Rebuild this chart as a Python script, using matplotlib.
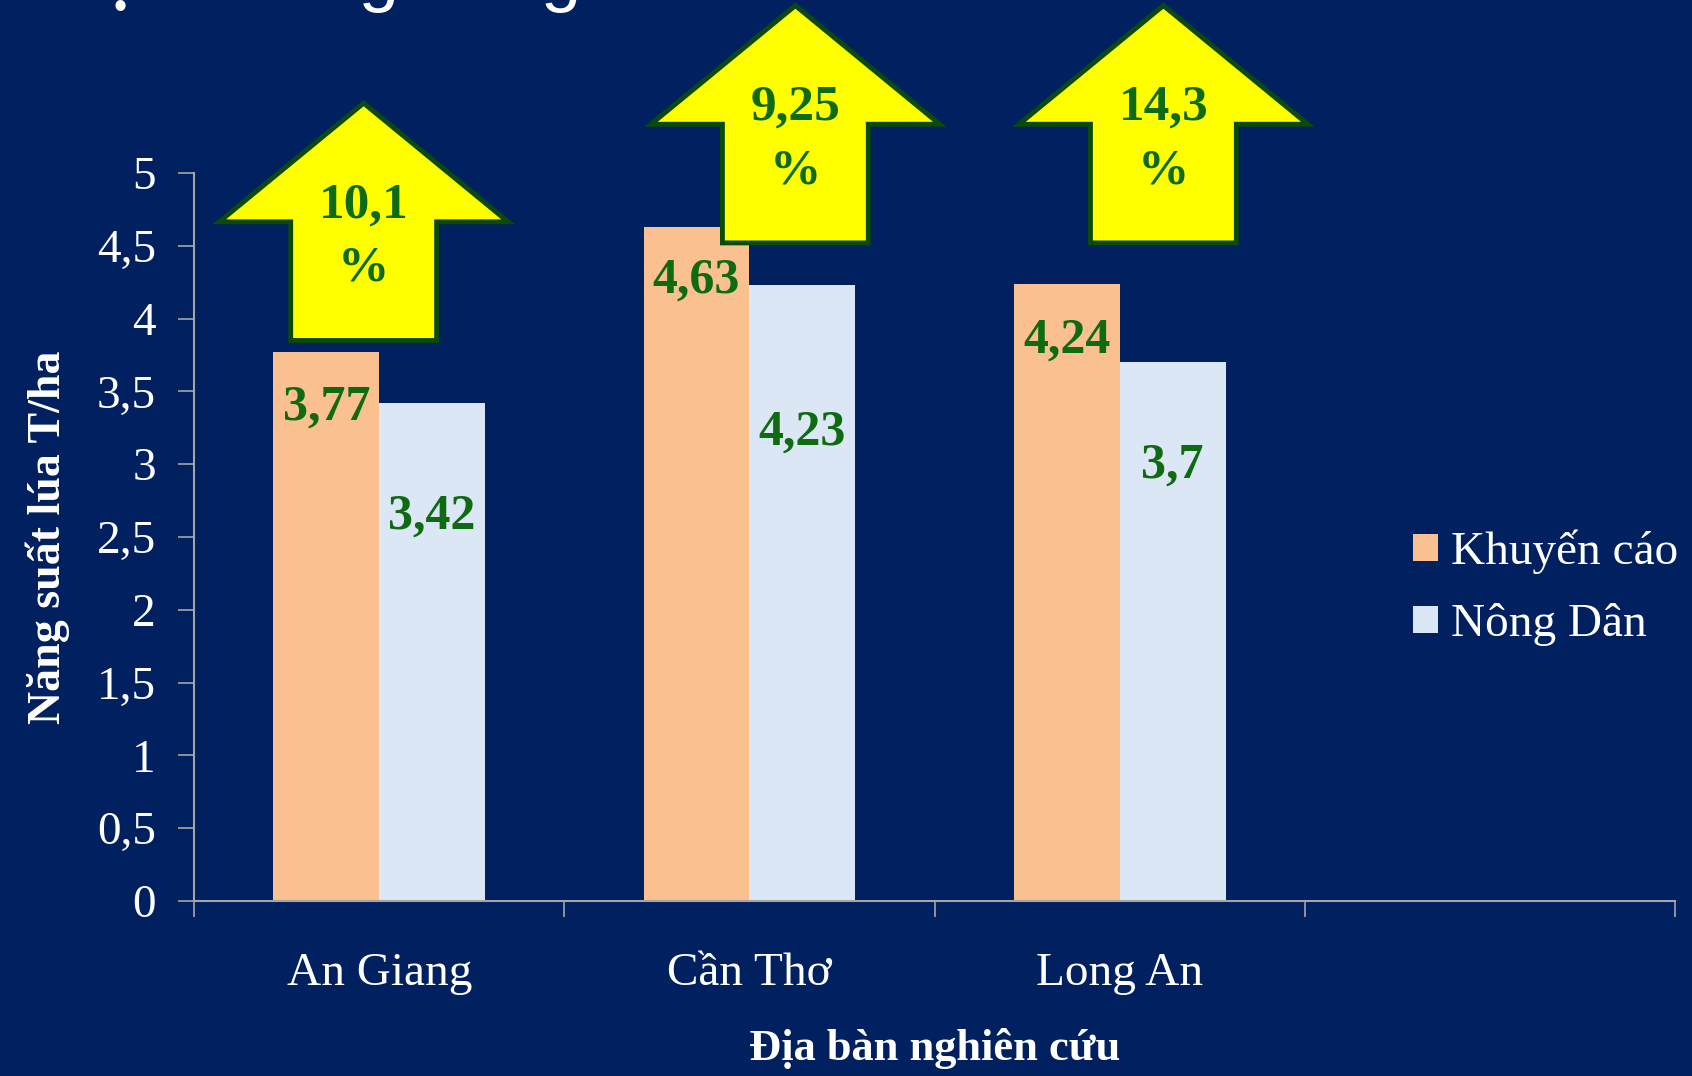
import matplotlib.pyplot as plt
from matplotlib.patches import Polygon, Patch

# data
categories = ['An Giang', 'Cần Thơ', 'Long An', '']
khuyen_cao = [3.77, 4.63, 4.24]
nong_dan = [3.42, 4.23, 3.70]
kc_text = ['3,77', '4,63', '4,24']
nd_text = ['3,42', '4,23', '3,7']
tang_text = ['10,1\n%', '9,25\n%', '14,3\n%']
yticks = [0, 0.5, 1, 1.5, 2, 2.5, 3, 3.5, 4, 4.5, 5]
ytick_text = ['0', '0,5', '1', '1,5', '2', '2,5', '3', '3,5', '4', '4,5', '5']

bg = '#002060'
orange = '#FAC090'
light = '#DCE7F5'
green = '#0E6B12'
dark_green = '#0B4A0B'
serif = 'Liberation Serif'

fig = plt.figure(figsize=(16.92, 10.76), dpi=100, facecolor=bg)
ax = fig.add_axes([0.1147, 0.1626, 0.8753, 0.6766], facecolor=bg)

w = 0.286
x = list(range(len(khuyen_cao)))
ax.bar([i - w / 2 for i in x], khuyen_cao, width=w, color=orange, zorder=2)
ax.bar([i + w / 2 for i in x], nong_dan, width=w, color=light, zorder=2)

# value labels inside the bars
kc_drop = [0.38, 0.37, 0.39]
nd_drop = [0.78, 1.01, 0.71]
for i in x:
    ax.text(i - w / 2, khuyen_cao[i] - kc_drop[i], kc_text[i], ha='center', va='center',
            fontsize=36, fontweight='bold', family=serif, color=green, zorder=5)
    ax.text(i + w / 2, nong_dan[i] - nd_drop[i], nd_text[i], ha='center', va='center',
            fontsize=36, fontweight='bold', family=serif, color=green, zorder=5)

# yellow "increase" arrows
arrow_dx = [-0.042, 0.124, 0.118]
arrow_bottom = [3.85, 4.52, 4.52]
head_w, shaft_w, shaft_h, head_h = 0.39, 0.197, 0.815, 0.815
for i in x:
    cx, b = i + arrow_dx[i], arrow_bottom[i]
    pts = [(cx - shaft_w, b), (cx + shaft_w, b), (cx + shaft_w, b + shaft_h),
           (cx + head_w, b + shaft_h), (cx, b + shaft_h + head_h),
           (cx - head_w, b + shaft_h), (cx - shaft_w, b + shaft_h)]
    ax.add_patch(Polygon(pts, closed=True, facecolor='#FFFF00', edgecolor=dark_green,
                         linewidth=3.5, joinstyle='miter', clip_on=False, zorder=4))
    ax.text(cx, b + 0.71, tang_text[i], ha='center', va='center', fontsize=37,
            fontweight='bold', family=serif, color=green, linespacing=1.5, zorder=6)

ax.set_xlim(-0.5, 3.5)
ax.set_ylim(0, 5)
ax.set_yticks(yticks)
ax.set_yticklabels(ytick_text, family=serif, fontsize=34, color='white')
ax.set_xticks([-0.5, 0.5, 1.5, 2.5, 3.5])
ax.set_xticklabels([])
ax.set_xticks(range(len(categories)), minor=True)
ax.set_xticklabels(categories, minor=True, family=serif, fontsize=34, color='white')
ax.tick_params(axis='y', length=11.5, width=1.2, color='#A6A6A6', pad=16)
ax.tick_params(axis='x', which='major', length=11.5, width=1.2, color='#A6A6A6')
ax.tick_params(axis='x', which='minor', length=0, pad=37)

for s in ['top', 'right']:
    ax.spines[s].set_visible(False)
for s in ['left', 'bottom']:
    ax.spines[s].set_color('#A6A6A6')
    ax.spines[s].set_linewidth(1.5)

ax.set_ylabel('Năng suất lúa T/ha', family=serif, fontsize=33, fontweight='bold', color='white')
ax.yaxis.label.set_va('center')
ax.yaxis.set_label_coords(-0.099, 0.5)
ax.set_xlabel('Địa bàn nghiên cứu', family=serif, fontsize=32, fontweight='bold', color='white')
ax.xaxis.set_label_coords(0.5, -0.203)
ax.xaxis.label.set_va('center')

handles = [Patch(facecolor=orange, edgecolor='none'), Patch(facecolor=light, edgecolor='none')]
ax.legend(handles, ['Khuyến cáo', 'Nông Dân'], loc='center left',
          bbox_to_anchor=(1413 / 1692, 1 - 588 / 1076), bbox_transform=fig.transFigure,
          frameon=False, prop={'family': serif, 'size': 34}, labelcolor='white',
          handlelength=0.52, handleheight=0.52, handletextpad=0.28, labelspacing=0.62,
          borderpad=0, borderaxespad=0)

# slide title, cut off by the top edge
fig.text(233 / 1692, 1 + 2 / 1076, 'Tăng năng suất lúa', family='Liberation Sans',
         fontsize=52.5, color='white', va='baseline')
fig.text(120 / 1692, 1 - 19 / 1076, '•', family='Liberation Sans', fontsize=27,
         color='white', ha='center', va='baseline')

fig.savefig('out.png', dpi=100, facecolor=bg)
